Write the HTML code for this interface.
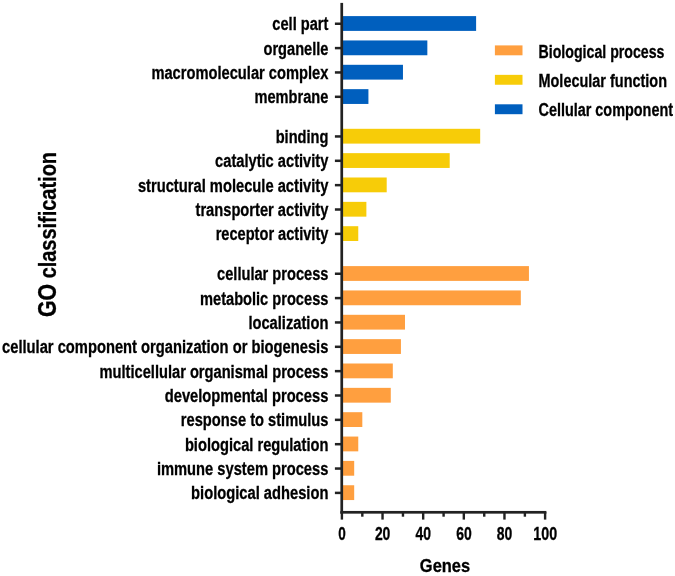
<!DOCTYPE html><html><head><meta charset="utf-8"><title>GO classification</title><style>html,body{margin:0;padding:0;background:#fff}svg{display:block}text{font-family:"Liberation Sans", Arial, sans-serif;font-weight:bold;fill:#000;stroke:#000;stroke-width:0.3px}</style></head><body>
<svg width="675" height="576" viewBox="0 0 675 576">
<rect width="675" height="576" fill="#fff"/>
<rect x="343" y="16.10" width="133.11" height="14.80" fill="#005FBE"/>
<rect x="334.9" y="22.50" width="6.5" height="2.5" fill="#222"/>
<text x="328.40" y="30.30" font-size="17.60" text-anchor="end" textLength="56.10" lengthAdjust="spacingAndGlyphs">cell part</text>
<rect x="343" y="40.45" width="84.34" height="14.80" fill="#005FBE"/>
<rect x="334.9" y="46.85" width="6.5" height="2.5" fill="#222"/>
<text x="328.40" y="54.65" font-size="17.60" text-anchor="end" textLength="64.90" lengthAdjust="spacingAndGlyphs">organelle</text>
<rect x="343" y="64.80" width="59.96" height="14.80" fill="#005FBE"/>
<rect x="334.9" y="71.20" width="6.5" height="2.5" fill="#222"/>
<text x="328.40" y="79.00" font-size="17.60" text-anchor="end" textLength="177.00" lengthAdjust="spacingAndGlyphs">macromolecular complex</text>
<rect x="343" y="89.15" width="25.42" height="14.80" fill="#005FBE"/>
<rect x="334.9" y="95.55" width="6.5" height="2.5" fill="#222"/>
<text x="328.40" y="103.35" font-size="17.60" text-anchor="end" textLength="73.90" lengthAdjust="spacingAndGlyphs">membrane</text>
<rect x="343" y="128.80" width="137.18" height="14.80" fill="#F7CC08"/>
<rect x="334.9" y="135.20" width="6.5" height="2.5" fill="#222"/>
<text x="328.40" y="143.00" font-size="17.60" text-anchor="end" textLength="52.70" lengthAdjust="spacingAndGlyphs">binding</text>
<rect x="343" y="153.15" width="106.70" height="14.80" fill="#F7CC08"/>
<rect x="334.9" y="159.55" width="6.5" height="2.5" fill="#222"/>
<text x="328.40" y="167.35" font-size="17.60" text-anchor="end" textLength="113.30" lengthAdjust="spacingAndGlyphs">catalytic activity</text>
<rect x="343" y="177.50" width="43.70" height="14.80" fill="#F7CC08"/>
<rect x="334.9" y="183.90" width="6.5" height="2.5" fill="#222"/>
<text x="328.40" y="191.70" font-size="17.60" text-anchor="end" textLength="190.50" lengthAdjust="spacingAndGlyphs">structural molecule activity</text>
<rect x="343" y="201.85" width="23.38" height="14.80" fill="#F7CC08"/>
<rect x="334.9" y="208.25" width="6.5" height="2.5" fill="#222"/>
<text x="328.40" y="216.05" font-size="17.60" text-anchor="end" textLength="132.90" lengthAdjust="spacingAndGlyphs">transporter activity</text>
<rect x="343" y="226.20" width="15.26" height="14.80" fill="#F7CC08"/>
<rect x="334.9" y="232.60" width="6.5" height="2.5" fill="#222"/>
<text x="328.40" y="240.40" font-size="17.60" text-anchor="end" textLength="112.70" lengthAdjust="spacingAndGlyphs">receptor activity</text>
<rect x="343" y="266.10" width="185.94" height="14.80" fill="#FF9F3F"/>
<rect x="334.9" y="272.50" width="6.5" height="2.5" fill="#222"/>
<text x="328.40" y="280.30" font-size="17.60" text-anchor="end" textLength="111.30" lengthAdjust="spacingAndGlyphs">cellular process</text>
<rect x="343" y="290.45" width="177.82" height="14.80" fill="#FF9F3F"/>
<rect x="334.9" y="296.85" width="6.5" height="2.5" fill="#222"/>
<text x="328.40" y="304.65" font-size="17.60" text-anchor="end" textLength="128.40" lengthAdjust="spacingAndGlyphs">metabolic process</text>
<rect x="343" y="314.80" width="61.99" height="14.80" fill="#FF9F3F"/>
<rect x="334.9" y="321.20" width="6.5" height="2.5" fill="#222"/>
<text x="328.40" y="329.00" font-size="17.60" text-anchor="end" textLength="80.00" lengthAdjust="spacingAndGlyphs">localization</text>
<rect x="343" y="339.15" width="57.93" height="14.80" fill="#FF9F3F"/>
<rect x="334.9" y="345.55" width="6.5" height="2.5" fill="#222"/>
<text x="328.40" y="353.35" font-size="17.60" text-anchor="end" textLength="326.40" lengthAdjust="spacingAndGlyphs">cellular component organization or biogenesis</text>
<rect x="343" y="363.50" width="49.80" height="14.80" fill="#FF9F3F"/>
<rect x="334.9" y="369.90" width="6.5" height="2.5" fill="#222"/>
<text x="328.40" y="377.70" font-size="17.60" text-anchor="end" textLength="228.90" lengthAdjust="spacingAndGlyphs">multicellular organismal process</text>
<rect x="343" y="387.85" width="47.77" height="14.80" fill="#FF9F3F"/>
<rect x="334.9" y="394.25" width="6.5" height="2.5" fill="#222"/>
<text x="328.40" y="402.05" font-size="17.60" text-anchor="end" textLength="163.70" lengthAdjust="spacingAndGlyphs">developmental process</text>
<rect x="343" y="412.20" width="19.32" height="14.80" fill="#FF9F3F"/>
<rect x="334.9" y="418.60" width="6.5" height="2.5" fill="#222"/>
<text x="328.40" y="426.40" font-size="17.60" text-anchor="end" textLength="147.60" lengthAdjust="spacingAndGlyphs">response to stimulus</text>
<rect x="343" y="436.55" width="15.26" height="14.80" fill="#FF9F3F"/>
<rect x="334.9" y="442.95" width="6.5" height="2.5" fill="#222"/>
<text x="328.40" y="450.75" font-size="17.60" text-anchor="end" textLength="143.50" lengthAdjust="spacingAndGlyphs">biological regulation</text>
<rect x="343" y="460.90" width="11.19" height="14.80" fill="#FF9F3F"/>
<rect x="334.9" y="467.30" width="6.5" height="2.5" fill="#222"/>
<text x="328.40" y="475.10" font-size="17.60" text-anchor="end" textLength="171.50" lengthAdjust="spacingAndGlyphs">immune system process</text>
<rect x="343" y="485.25" width="11.19" height="14.80" fill="#FF9F3F"/>
<rect x="334.9" y="491.65" width="6.5" height="2.5" fill="#222"/>
<text x="328.40" y="499.45" font-size="17.60" text-anchor="end" textLength="137.30" lengthAdjust="spacingAndGlyphs">biological adhesion</text>
<rect x="340.4" y="2.9" width="2.7" height="510.7" fill="#222"/>
<rect x="340.4" y="510.95" width="206.0" height="2.7" fill="#222"/>
<rect x="340.70" y="512" width="2.4" height="7.6" fill="#222"/>
<text x="342.00" y="540.2" font-size="17.6" text-anchor="middle" textLength="7.50" lengthAdjust="spacingAndGlyphs">0</text>
<rect x="361.12" y="512" width="2.4" height="4.7" fill="#222"/>
<rect x="381.34" y="512" width="2.4" height="7.6" fill="#222"/>
<text x="382.64" y="540.2" font-size="17.6" text-anchor="middle" textLength="15.50" lengthAdjust="spacingAndGlyphs">20</text>
<rect x="401.76" y="512" width="2.4" height="4.7" fill="#222"/>
<rect x="421.98" y="512" width="2.4" height="7.6" fill="#222"/>
<text x="423.28" y="540.2" font-size="17.6" text-anchor="middle" textLength="15.50" lengthAdjust="spacingAndGlyphs">40</text>
<rect x="442.40" y="512" width="2.4" height="4.7" fill="#222"/>
<rect x="462.62" y="512" width="2.4" height="7.6" fill="#222"/>
<text x="463.92" y="540.2" font-size="17.6" text-anchor="middle" textLength="15.50" lengthAdjust="spacingAndGlyphs">60</text>
<rect x="483.04" y="512" width="2.4" height="4.7" fill="#222"/>
<rect x="503.26" y="512" width="2.4" height="7.6" fill="#222"/>
<text x="504.56" y="540.2" font-size="17.6" text-anchor="middle" textLength="15.50" lengthAdjust="spacingAndGlyphs">80</text>
<rect x="523.68" y="512" width="2.4" height="4.7" fill="#222"/>
<rect x="543.90" y="512" width="2.4" height="7.6" fill="#222"/>
<text x="545.20" y="540.2" font-size="17.6" text-anchor="middle" textLength="23.80" lengthAdjust="spacingAndGlyphs">100</text>
<text x="445" y="572" font-size="18.6" text-anchor="middle" textLength="50.3" lengthAdjust="spacingAndGlyphs">Genes</text>
<text transform="translate(56,234.5) rotate(-90)" font-size="24" text-anchor="middle" textLength="165" lengthAdjust="spacingAndGlyphs"><tspan font-size="25.6">GO</tspan> classification</text>
<rect x="494.9" y="45.40" width="27.6" height="9.9" fill="#FF9F3F"/>
<text x="538.5" y="57.50" font-size="17.6" textLength="126.00" lengthAdjust="spacingAndGlyphs">Biological process</text>
<rect x="494.9" y="74.85" width="27.6" height="9.9" fill="#F7CC08"/>
<text x="538.5" y="86.80" font-size="17.6" textLength="128.50" lengthAdjust="spacingAndGlyphs">Molecular function</text>
<rect x="494.9" y="104.30" width="27.6" height="9.9" fill="#005FBE"/>
<text x="538.5" y="116.10" font-size="17.6" textLength="134.50" lengthAdjust="spacingAndGlyphs">Cellular component</text>
</svg></body></html>
